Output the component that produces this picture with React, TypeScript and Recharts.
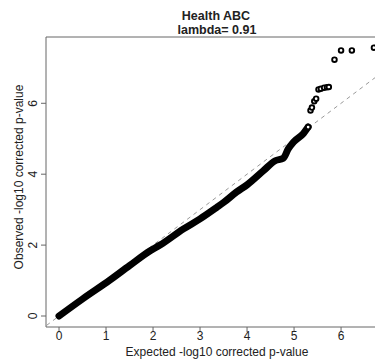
import React from "react";
import {
  ComposedChart,
  Line,
  Scatter,
  XAxis,
  YAxis,
  ReferenceLine,
} from "recharts";

// Dense part of the QQ curve (expected vs observed -log10 p)
const curveExpected = [0, 0.5, 1.08, 1.5, 1.94, 2.15, 2.64, 3.0, 3.35, 3.5, 3.78, 4.0, 4.35, 4.6, 4.77, 4.88, 4.99, 5.2, 5.3];
const curveObserved = [0, 0.48, 1.01, 1.42, 1.84, 2.0, 2.45, 2.74, 3.06, 3.2, 3.5, 3.7, 4.1, 4.38, 4.45, 4.72, 4.91, 5.15, 5.33];

// Sparse top points
const topExpected = [5.3, 5.35, 5.38, 5.43, 5.47, 5.52, 5.57, 5.64, 5.7, 5.74, 5.86, 6.0, 6.23, 6.7];
const topObserved = [5.33, 5.8, 5.88, 6.06, 6.13, 6.39, 6.41, 6.44, 6.45, 6.46, 7.23, 7.49, 7.49, 7.57];

const xTicks = [0, 1, 2, 3, 4, 5, 6];
const yTicks = [0, 2, 4, 6];

const title = "Health ABC";
const subtitle = "lambda= 0.91";
const xLabel = "Expected -log10 corrected p-value";
const yLabel = "Observed -log10 corrected p-value";

const curveData = curveExpected.map((x, i) => ({ x, y: curveObserved[i] }));
const topData = topExpected.map((x, i) => ({ x, y: topObserved[i] }));

const FONT = "'Liberation Sans', Arial, sans-serif";
const X_DOMAIN: [number, number] = [-0.277, 7.02];
const Y_DOMAIN: [number, number] = [-0.31, 7.87];

const XTick = (props: any) => {
  const { x, payload } = props;
  return (
    <text x={x} y={332} textAnchor="middle" fontSize={12} fontFamily={FONT} fill="#222">
      {payload.value}
    </text>
  );
};

const YTick = (props: any) => {
  const { y, payload } = props;
  return (
    <text
      transform={`translate(28.7,${y}) rotate(-90)`}
      textAnchor="middle"
      fontSize={12}
      fontFamily={FONT}
      fill="#222"
    >
      {payload.value}
    </text>
  );
};

export default function App() {
  return (
    <div style={{ position: "relative", width: 375, height: 353, overflow: "hidden", background: "#fff" }}>
      <ComposedChart
        width={392}
        height={353}
        margin={{ top: 29, right: 11, left: 0, bottom: 0 }}
      >
        <XAxis
          type="number"
          dataKey="x"
          domain={X_DOMAIN}
          ticks={xTicks}
          allowDataOverflow
          height={34}
          tickSize={5}
          tickMargin={0}
          tick={<XTick />}
          stroke="#666"
          tickLine={{ stroke: "#666" }}
        />
        <YAxis
          type="number"
          dataKey="y"
          domain={Y_DOMAIN}
          ticks={yTicks}
          allowDataOverflow
          width={38}
          tickSize={5}
          tickMargin={0}
          tick={<YTick />}
          stroke="#666"
          tickLine={{ stroke: "#666" }}
        />
        <ReferenceLine y={Y_DOMAIN[1]} stroke="#666" ifOverflow="visible" />
        <ReferenceLine
          segment={[
            { x: -0.4, y: -0.4 },
            { x: 8, y: 8 },
          ]}
          stroke="#999"
          strokeDasharray="4 4"
          ifOverflow="hidden"
        />
        <Line
          data={curveData}
          dataKey="y"
          type="monotone"
          stroke="#000"
          strokeWidth={7}
          strokeLinecap="round"
          strokeLinejoin="round"
          dot={false}
          isAnimationActive={false}
        />
        <Scatter
          data={topData}
          dataKey="y"
          isAnimationActive={false}
          shape={(p: any) => (
            <circle cx={p.cx} cy={p.cy} r={2.3} fill="#fff" stroke="#000" strokeWidth={1.9} />
          )}
        />
      </ComposedChart>
      <svg
        width={375}
        height={353}
        style={{ position: "absolute", left: 0, top: 0, pointerEvents: "none" }}
      >
        <text x={208} y={12} textAnchor="middle" fontSize={12.5} fontWeight="bold" fontFamily={FONT} fill="#222">
          {title}
        </text>
        <text x={209} y={26.3} textAnchor="middle" fontSize={12.5} fontWeight="bold" fontFamily={FONT} fill="#222">
          {subtitle}
        </text>
        <text x={209} y={348} textAnchor="middle" fontSize={12} fontFamily={FONT} fill="#222">
          {xLabel}
        </text>
        <text
          transform="translate(15.3,169) rotate(-90)"
          textAnchor="middle"
          fontSize={12}
          fontFamily={FONT}
          fill="#222"
        >
          {yLabel}
        </text>
      </svg>
    </div>
  );
}
